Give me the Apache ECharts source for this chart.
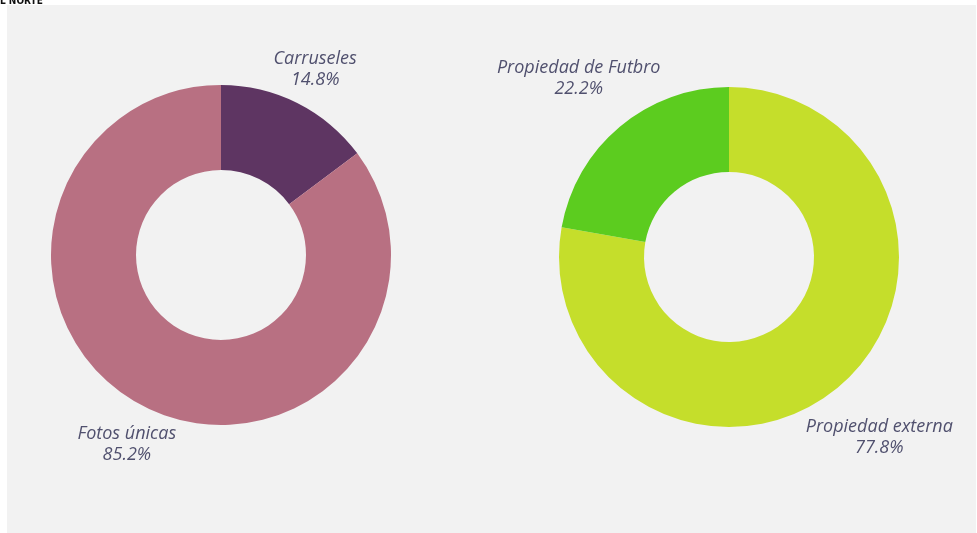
<!DOCTYPE html>
<html>
<head>
<meta charset="utf-8">
<script src="https://cdn.jsdelivr.net/npm/echarts@6/dist/echarts.min.js"></script>
<style>
  html, body { margin: 0; padding: 0; background: #fff; }
  #chart { width: 977px; height: 533px; }
</style>
</head>
<body>
<div id="chart"></div>
<script>
// datos de los dos anillos
var formatoNames = ['Carruseles', 'Fotos únicas'];
var formatoValues = [14.8, 85.2];
var formatoColors = ['#5e3562', '#b87082'];

var propiedadNames = ['Propiedad externa', 'Propiedad de Futbro'];
var propiedadValues = [77.8, 22.2];
var propiedadColors = ['#c5de2b', '#5ccc1f'];

// centro y distancia de la etiqueta de cada anillo (px)
var layout = [
  { cx: 221, cy: 255, labelDist: 210, dy: 2 },
  { cx: 729, cy: 257, labelDist: 234, dy: 1 }
];
var allValues = [formatoValues, propiedadValues];

function toData(names, values, colors) {
  return names.map(function (n, i) {
    return { name: n, value: values[i], itemStyle: { color: colors[i] } };
  });
}

// coloca la etiqueta sobre el angulo medio del sector
function placeLabel(params) {
  var vals = allValues[params.seriesIndex];
  var L = layout[params.seriesIndex];
  var total = vals.reduce(function (a, b) { return a + b; }, 0);
  var before = 0;
  for (var i = 0; i < params.dataIndex; i++) before += vals[i];
  var mid = (before + vals[params.dataIndex] / 2) / total * Math.PI * 2;
  return {
    x: L.cx + Math.sin(mid) * L.labelDist,
    y: L.cy - Math.cos(mid) * L.labelDist + L.dy,
    align: 'center',
    verticalAlign: 'middle'
  };
}

var labelStyle = {
  show: true,
  position: 'outside',
  overflow: 'none',
  formatter: function (p) { return p.name + '\n' + p.value.toFixed(1) + '%'; },
  fontFamily: 'Open Sans',
  fontStyle: 'italic',
  fontSize: 18,
  lineHeight: 21,
  color: '#50506e',
  align: 'center'
};

var chart = echarts.init(document.getElementById('chart'));
chart.setOption({
  backgroundColor: '#ffffff',
  animation: false,
  graphic: [
    { type: 'rect', shape: { x: 7, y: 5, width: 969, height: 530 }, style: { fill: '#f2f2f2' }, z: -10 },
    { type: 'text', left: 0, top: -4, style: { text: 'L NORTE', font: 'bold 10px "DejaVu Sans Condensed"', fill: '#111' } }
  ],
  series: [
    {
      type: 'pie',
      center: [layout[0].cx, layout[0].cy],
      radius: [85, 170],
      startAngle: 90,
      clockwise: true,
      label: labelStyle,
      labelLine: { show: false },
      labelLayout: placeLabel,
      emphasis: { disabled: true },
      data: toData(formatoNames, formatoValues, formatoColors)
    },
    {
      type: 'pie',
      center: [layout[1].cx, layout[1].cy],
      radius: [85, 170],
      startAngle: 90,
      clockwise: true,
      label: labelStyle,
      labelLine: { show: false },
      labelLayout: placeLabel,
      emphasis: { disabled: true },
      data: toData(propiedadNames, propiedadValues, propiedadColors)
    }
  ]
});
</script>
</body>
</html>
